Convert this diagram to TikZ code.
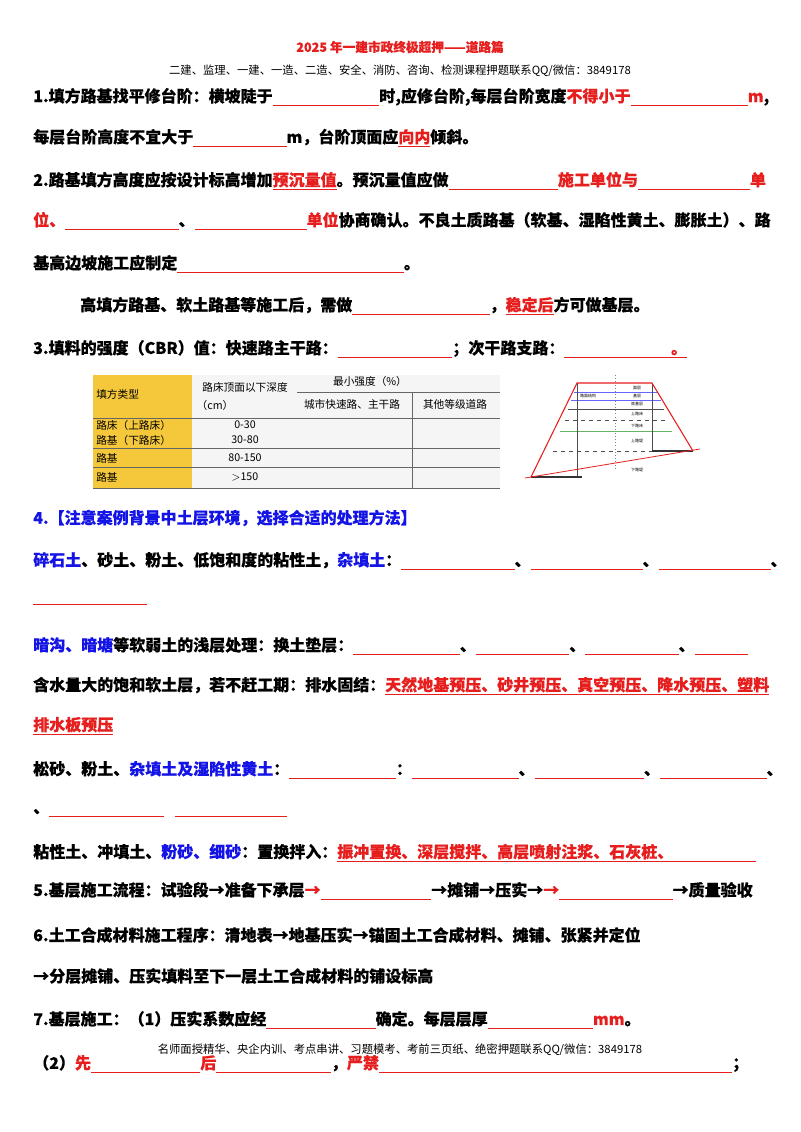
\documentclass[tikz,border=0pt]{standalone}
\usepackage{fontspec}
\setmainfont{Noto Sans CJK SC}[FakeBold=0.25]
\newfontfamily\plainf{Noto Sans CJK SC}
\definecolor{tred}{RGB}{230,30,30}
\definecolor{tblue}{RGB}{20,20,230}
\definecolor{tyel}{RGB}{245,200,60}
\newcommand\bl[1]{\textcolor{tred}{\rule[-3pt]{#1pt}{0.6pt}}}
\newcommand\ru[1]{\textcolor{tred}{\underline{#1}}}
\newcommand\rr[1]{\textcolor{tred}{#1}}
\newcommand\bb[1]{\textcolor{tblue}{#1}}
\begin{document}
\begin{tikzpicture}[x=0.75pt,y=-0.75pt,
  txt/.style={anchor=west,inner sep=0pt,font=\fontsize{12}{12}\bfseries},
  small/.style={inner sep=0pt,font=\plainf\fontsize{8}{9}\selectfont},
  fig/.style={inner sep=0pt,font=\plainf\fontsize{3}{3}\selectfont}]
\fill[white] (0,0) rectangle (800,1132);
\useasboundingbox (0,0) rectangle (800,1132);
\node[inner sep=0pt,font=\fontsize{9.5}{10}\bfseries,text=tred] (t) at (400,47) {2025 年一建市政终极超押——道路篇};
\node[small,font=\plainf\fontsize{8.5}{9}\selectfont] (st) at (400,71) {二建、监理、一建、一造、二造、安全、消防、咨询、检测课程押题联系QQ/微信：3849178};
\node[txt] (l1) at (33,97) {1.填方路基找平修台阶：横坡陡于\bl{80}时,应修台阶,每层台阶宽度\rr{不得小于}\bl{88}\rr{m},};
\node[txt] (l2) at (33,138) {每层台阶高度不宜大于\bl{70}m，台阶顶面应\ru{向内}倾斜。};
\node[txt] (l3) at (33,181) {2.路基填方高度应按设计标高增加\ru{预沉量值}。预沉量值应做\bl{82}\rr{施工单位与}\bl{84}\rr{单}};
\node[txt] (l4) at (33,221) {\rr{位、}\bl{85}、\bl{84}\rr{单位}协商确认。不良土质路基（软基、湿陷性黄土、膨胀土）、路};
\node[txt] (l5) at (33,264) {基高边坡施工应制定\bl{170}。};
\node[txt] (l6) at (80,306) {高填方路基、软土路基等施工后，需做\bl{103}，\ru{稳定后}方可做基层。};
\node[txt] (l7) at (33,349) {3.填料的强度（CBR）值：快速路主干路：\bl{86}；次干路支路：\bl{80}\ru{。}};
% table
\fill[black!4] (93,375) rectangle (500,488);
\fill[tyel] (93,375) rectangle (192,488);
\draw[black!60,line width=0.5pt] (297,392) -- (500,392);
\foreach \yy in {418,448,467,488} \draw[black!60,line width=0.5pt] (93,\yy) -- (500,\yy);
\draw[black!60,line width=0.5pt] (412,392) -- (412,488);
\node[small,anchor=west] (c1) at (96,394) {填方类型};
\node[small] (c2) at (245,387) {路床顶面以下深度};
\node[small] (c3) at (215,405) {（cm）};
\node[small] (c4) at (370,381) {最小强度（\%）};
\node[small] (c5) at (352,404) {城市快速路、主干路};
\node[small] (c6) at (455,404) {其他等级道路};
\node[small,anchor=west] (r1) at (96,425) {路床（上路床）};
\node[small,anchor=west] (r2) at (96,440) {路基（下路床）};
\node[small,anchor=west] (r3) at (96,458) {路基};
\node[small,anchor=west] (r4) at (96,477) {路基};
\node[small] (v1) at (245,425) {0-30};
\node[small] (v2) at (245,440) {30-80};
\node[small] (v3) at (245,458) {80-150};
\node[small] (v4) at (245,477) {$>$150};
% figure
\draw[blue!60,line width=0.4pt] (574,392) -- (658,392) (571,400) -- (661,400);
\draw[black!70,line width=0.4pt] (568,409) -- (664,409);
\draw[black!70,dashed,line width=0.4pt] (565,420) -- (668,420);
\draw[green!50!black!60,line width=0.5pt] (560,431) -- (672,431);
\draw[black!70,dashed,line width=0.4pt] (553,451) -- (693,451);
\draw[black!50,dotted] (615,375) -- (615,470);
\draw[black!70,line width=0.4pt] (577,383) -- (577,477) (652,383) -- (652,451);
\draw[black!80,line width=1pt] (531,477) -- (582,477) (652,451) -- (693,451);
\draw[tred,line width=0.8pt] (531,477) -- (577,383) -- (652,383) -- (693,451);
\draw[tred,line width=0.6pt] (525,478) -- (700,449);
\node[fig] (f1) at (637,388) {面层};
\node[fig] (f2) at (637,396) {基层};
\node[fig] (f3) at (637,404) {底基层};
\node[fig] (f4) at (637,414) {上路床};
\node[fig] (f5) at (637,426) {下路床};
\node[fig] (f6) at (637,441) {上路堤};
\node[fig] (f7) at (637,470) {下路堤};
\node[fig] (f8) at (588,396) {路面结构};
\node[txt,text=tblue] (l8) at (33,518) {4.【注意案例背景中土层环境，选择合适的处理方法】};
\node[txt] (l9) at (33,561) {\bb{碎石土}、砂土、粉土、低饱和度的粘性土，\bb{杂填土}：\bl{85}、\bl{84}、\bl{84}、};
\node[txt] (l10) at (33,603) {\bl{85}};
\node[txt] (l11) at (33,646) {\bb{暗沟、暗塘}等软弱土的浅层处理：换土垫层：\bl{80}、\bl{70}、\bl{70}、\bl{40}};
\node[txt] (l12) at (33,686) {含水量大的饱和软土层，若不赶工期：排水固结：\ru{天然地基预压、砂井预压、真空预压、降水预压、塑料}};
\node[txt] (l13) at (33,726) {\ru{排水板预压}};
\node[txt] (l14) at (33,770) {松砂、粉土、\bb{杂填土及湿陷性黄土}：\bl{80}：\bl{80}、\bl{82}、\bl{80}、};
\node[txt] (l15) at (33,813) {、\bl{86}\hspace{8pt}\bl{84}};
\node[txt] (l16) at (33,853) {粘性土、冲填土、\bb{粉砂、细砂}：置换拌入：\ru{振冲置换、深层搅拌、高层喷射注浆、石灰桩、}\bl{62}};
\node[txt] (l17) at (33,891) {5.基层施工流程：试验段→准备下承层\rr{→}\bl{83}→摊铺→压实→\rr{→}\bl{85}→质量验收};
\node[txt] (l18) at (33,935) {6.土工合成材料施工程序：清地表→地基压实→锚固土工合成材料、摊铺、张紧并定位};
\node[txt] (l19) at (33,976) {→分层摊铺、压实填料至下一层土工合成材料的铺设标高};
\node[txt] (l20) at (33,1020) {7.基层施工：（1）压实系数应经\bl{82}确定。每层层厚\bl{79}\rr{mm}。};
\node[small,font=\plainf\fontsize{8.5}{9}\selectfont] (ft) at (400,1050) {名师面授精华、央企内训、考点串讲、习题模考、考前三页纸、绝密押题联系QQ/微信：3849178};
\node[txt] (l21) at (33,1064) {（2）\rr{先}\bl{82}\rr{后}\bl{86}，\rr{严禁}\bl{265}；};
\end{tikzpicture}
\end{document}
